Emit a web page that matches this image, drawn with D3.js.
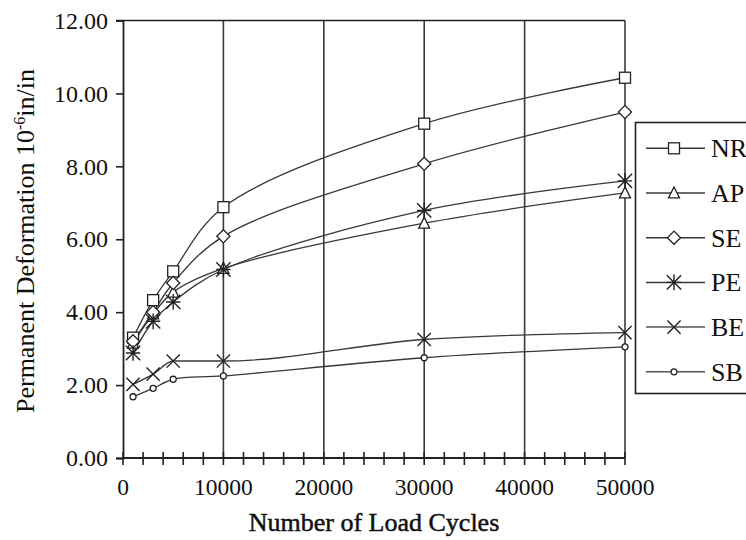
<!DOCTYPE html>
<html>
<head>
<meta charset="utf-8">
<script src="https://cdn.jsdelivr.net/npm/d3@7"></script>
<style>
  html, body { margin: 0; padding: 0; background: #fff; }
  svg { display: block; font-family: "Liberation Serif", "DejaVu Serif", serif; }
</style>
</head>
<body>
<svg id="chart" width="746" height="540"></svg>
<script>
// Load cycles at which deformation was measured
const cycles = [1000, 3000, 5000, 10000, 30000, 50000];

// Permanent deformation (10^-6 in/in) per mixture
const seriesNames = ["NR", "AP", "SE", "PE", "BE", "SB"];
const nrValues = [3.30, 4.33, 5.12, 6.88, 9.17, 10.43];
const apValues = [3.15, 3.95, 4.55, 5.20, 6.44, 7.27];
const seValues = [3.20, 4.00, 4.80, 6.08, 8.07, 9.49];
const peValues = [2.88, 3.75, 4.28, 5.17, 6.79, 7.60];
const beValues = [2.02, 2.30, 2.66, 2.66, 3.25, 3.44];
const sbValues = [1.68, 1.91, 2.16, 2.25, 2.75, 3.05];

const xTicks = [0, 10000, 20000, 30000, 40000, 50000];
const yTicks = [0, 2, 4, 6, 8, 10, 12];

const valuesByName = { NR: nrValues, AP: apValues, SE: seValues, PE: peValues, BE: beValues, SB: sbValues };
const symbolByName = { NR: "square", AP: "triangle", SE: "diamond", PE: "asterisk", BE: "cross", SB: "circle" };

const svg = d3.select("#chart");
const plot = { left: 123, right: 625, top: 20.5, bottom: 458 };

const x = d3.scaleLinear().domain([0, 50000]).range([plot.left, plot.right]);
const y = d3.scaleLinear().domain([0, 12]).range([plot.bottom, plot.top]);

const ink = "#222";
const lineInk = "#383838";

// Vertical grid lines at the major cycle counts, plus top frame
svg.append("g").selectAll("line")
  .data(xTicks.filter(d => d > 0))
  .join("line")
  .attr("x1", d => x(d)).attr("x2", d => x(d))
  .attr("y1", y(12)).attr("y2", y(0))
  .attr("stroke", "#3a3a3a").attr("stroke-width", 1.6);

svg.append("line")
  .attr("x1", plot.left - 7).attr("x2", x(50000))
  .attr("y1", y(12)).attr("y2", y(12))
  .attr("stroke", ink).attr("stroke-width", 1.6);

// Y axis
const yAxis = d3.axisLeft(y).tickValues(yTicks).tickSize(7).tickPadding(8)
  .tickFormat(d3.format(".2f"));
const gy = svg.append("g").attr("transform", `translate(${plot.left},0)`).call(yAxis);
gy.select(".domain").attr("stroke", ink).attr("stroke-width", 1.8);
gy.selectAll(".tick line").attr("stroke", ink).attr("stroke-width", 1.6);
gy.selectAll(".tick text").attr("font-size", 24).attr("fill", "#111")
  .attr("font-family", "Liberation Serif, serif");

// X axis: minor ticks every 2000 crossing the axis line
const xMinor = d3.range(0, 50001, 2000);
const gx = svg.append("g").attr("transform", `translate(0,${plot.bottom})`);
gx.append("line").attr("x1", x(0)).attr("x2", x(50000)).attr("y1", 0).attr("y2", 0)
  .attr("stroke", ink).attr("stroke-width", 1.8);
gx.selectAll("line.minor").data(xMinor).join("line").attr("class", "minor")
  .attr("x1", d => x(d)).attr("x2", d => x(d))
  .attr("y1", -6).attr("y2", 7)
  .attr("stroke", ink).attr("stroke-width", 1.6);
gx.selectAll("text").data(xTicks).join("text")
  .attr("x", d => x(d)).attr("y", 37)
  .attr("text-anchor", "middle").attr("font-size", 23.5).attr("fill", "#111")
  .text(d => d3.format("d")(d));

// Axis titles
svg.append("text")
  .attr("x", 374).attr("y", 531)
  .attr("text-anchor", "middle").attr("font-size", 26).attr("fill", "#111")
  .attr("stroke", "#111").attr("stroke-width", 0.5)
  .text("Number of Load Cycles");

const yTitle = svg.append("text")
  .attr("transform", "translate(34,241) rotate(-90)")
  .attr("text-anchor", "middle").attr("font-size", 26).attr("fill", "#111");
yTitle.append("tspan").text("Permanent Deformation 10");
yTitle.append("tspan").attr("dy", -9).attr("font-size", 16).text("-6");
yTitle.append("tspan").attr("dy", 9).text("in/in");

// Marker drawing
function drawMarker(g, kind, s) {
  const st = { fill: "#fff", stroke: ink, "stroke-width": 1.3 };
  const apply = sel => { Object.entries(st).forEach(([k, v]) => sel.attr(k, v)); return sel; };
  if (kind === "square") {
    apply(g.append("rect")).attr("x", -s / 2).attr("y", -s / 2).attr("width", s).attr("height", s);
  } else if (kind === "triangle") {
    apply(g.append("path")).attr("d", `M0,${-s * 0.55}L${s * 0.5},${s * 0.45}L${-s * 0.5},${s * 0.45}Z`);
  } else if (kind === "diamond") {
    apply(g.append("path")).attr("d", `M0,${-s * 0.55}L${s * 0.55},0L0,${s * 0.55}L${-s * 0.55},0Z`);
  } else if (kind === "cross") {
    const h = s * 0.55;
    g.append("path").attr("d", `M${-h},${-h}L${h},${h}M${-h},${h}L${h},${-h}`)
      .attr("stroke", ink).attr("stroke-width", 1.4).attr("fill", "none");
  } else if (kind === "asterisk") {
    const h = s * 0.55;
    g.append("path").attr("d", `M${-h},${-h}L${h},${h}M${-h},${h}L${h},${-h}M0,${-h * 1.1}L0,${h * 1.1}M${-h},0L${h},0`)
      .attr("stroke", ink).attr("stroke-width", 1.4).attr("fill", "none");
  } else if (kind === "circle") {
    apply(g.append("circle")).attr("r", s * 0.3);
  }
}

const markerSize = { square: 11, triangle: 11, diamond: 12, cross: 12, asterisk: 13, circle: 10 };

// Smoothed curves through the measured points; a series with a plateau
// uses a monotone spline so the flat stretch stays flat.
const hasPlateau = vals => vals.some((v, i) => i > 0 && v === vals[i - 1]);
const lineFor = vals => d3.line()
  .x((d, i) => x(cycles[i]))
  .y(d => y(d))
  .curve(hasPlateau(vals) ? d3.curveMonotoneX : d3.curveCatmullRom.alpha(0.5));

const series = seriesNames.map(name => ({ name, values: valuesByName[name], kind: symbolByName[name] }));

// Curves first, then markers on top
svg.append("g").selectAll("path")
  .data(series)
  .join("path")
  .attr("d", d => lineFor(d.values)(d.values))
  .attr("fill", "none")
  .attr("stroke", lineInk)
  .attr("stroke-width", 1.3);

series.forEach(s => {
  const g = svg.append("g");
  s.values.forEach((v, i) => {
    const m = g.append("g").attr("transform", `translate(${x(cycles[i])},${y(v)})`);
    drawMarker(m, s.kind, markerSize[s.kind]);
  });
});

// Legend
const legend = svg.append("g");
legend.append("rect")
  .attr("x", 635.5).attr("y", 122.5).attr("width", 130).attr("height", 271)
  .attr("fill", "#fff").attr("stroke", ink).attr("stroke-width", 1.6);

series.forEach((s, i) => {
  const cy = 148.3 + i * 44.7;
  const g = legend.append("g");
  g.append("line").attr("x1", 646).attr("x2", 705).attr("y1", cy).attr("y2", cy)
    .attr("stroke", i >= 4 ? "#555" : lineInk).attr("stroke-width", 1.5);
  const m = g.append("g").attr("transform", `translate(674,${cy})`);
  drawMarker(m, s.kind, markerSize[s.kind]);
  g.append("text").attr("x", 711).attr("y", cy + 9)
    .attr("font-size", 26).attr("fill", "#111").text(s.name);
});
</script>
</body>
</html>
